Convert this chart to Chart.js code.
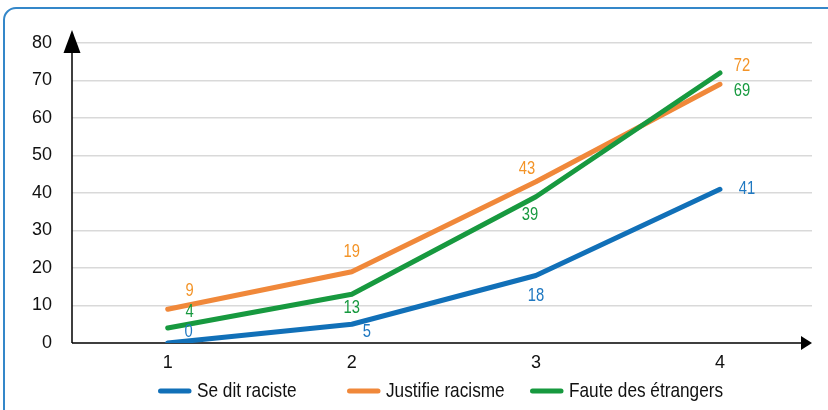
<!DOCTYPE html>
<html>
<head>
<meta charset="utf-8">
<script src="https://cdn.jsdelivr.net/npm/chart.js@4"></script>
<style>
  html, body { margin: 0; padding: 0; background: #fff; overflow: hidden; }
  #wrap { position: relative; width: 828px; height: 410px; }
  #frame {
    position: absolute; left: 3px; top: 7px; width: 850px; height: 430px;
    border: 2px solid #3487c9; border-radius: 13px; box-sizing: border-box;
  }
  canvas { position: absolute; left: 0; top: 0; }
</style>
</head>
<body>
<div id="wrap">
  <div id="frame"></div>
  <canvas id="chart" width="828" height="410"></canvas>
</div>
<script>
const categories = [1, 2, 3, 4];
const yTicks = [0, 10, 20, 30, 40, 50, 60, 70, 80];
const seriesNames = ['Se dit raciste', 'Justifie racisme', 'Faute des étrangers'];

const seDitRaciste = [0, 5, 18, 41];
const justifieRacisme = [9, 19, 43, 69];
const fauteEtrangers = [4, 13, 39, 72];

// value labels as printed on the chart
const seDitLabels = ['0', '5', '18', '41'];
const justifieLabels = ['9', '19', '43', '72'];
const fauteLabels = ['4', '13', '39', '69'];

const BLUE = '#1170b8';
const ORANGE = '#f0883a';
const GREEN = '#17993f';
const REGULAR = '"Liberation Sans", Arial, Helvetica, sans-serif';
const SQUEEZE = 0.82; // no narrow font installed, so squeeze the regular one

const toPoints = vals => categories.map((c, i) => ({ x: c, y: vals[i] }));

const datasets = [
  {
    label: seriesNames[0], data: toPoints(seDitRaciste), borderColor: BLUE,
    order: 2, valueLabels: seDitLabels, labelColor: '#1f78c1',
    labelOffsets: [[21, -11], [15, 8], [0, 21], [27, 0]]
  },
  {
    label: seriesNames[1], data: toPoints(justifieRacisme), borderColor: ORANGE,
    order: 1, valueLabels: justifieLabels, labelColor: '#f39428',
    labelOffsets: [[22, -18], [0, -20], [-9, -13], [22, -18]]
  },
  {
    label: seriesNames[2], data: toPoints(fauteEtrangers), borderColor: GREEN,
    order: 0, valueLabels: fauteLabels, labelColor: '#17993f',
    labelOffsets: [[22, -16], [0, 14], [-6, 18], [22, 18]]
  }
];
datasets.forEach(d => {
  d.borderWidth = 5;
  d.pointRadius = 0;
  d.tension = 0;
  d.borderCapStyle = 'round';
  d.borderJoinStyle = 'round';
  d.fill = false;
});

function narrowText(ctx, text, x, y) {
  ctx.save();
  ctx.translate(x, y);
  ctx.scale(SQUEEZE, 1);
  ctx.fillText(text, 0, 0);
  ctx.restore();
}

// axes with arrow heads
const axesPlugin = {
  id: 'axes',
  beforeDatasetsDraw(chart) {
    const { ctx, chartArea: a } = chart;
    ctx.save();
    ctx.strokeStyle = '#000';
    ctx.fillStyle = '#000';
    ctx.lineWidth = 1.5;
    ctx.beginPath();
    ctx.moveTo(a.left, a.bottom);
    ctx.lineTo(a.left, a.top - 5);
    ctx.moveTo(a.left, a.bottom);
    ctx.lineTo(a.right - 6, a.bottom);
    ctx.stroke();
    // y arrow
    ctx.beginPath();
    ctx.moveTo(a.left, a.top - 13);
    ctx.lineTo(a.left - 8.5, a.top + 10);
    ctx.lineTo(a.left + 8.5, a.top + 10);
    ctx.closePath();
    ctx.fill();
    // x arrow
    ctx.beginPath();
    ctx.moveTo(a.right, a.bottom);
    ctx.lineTo(a.right - 11, a.bottom - 7);
    ctx.lineTo(a.right - 11, a.bottom + 7);
    ctx.closePath();
    ctx.fill();
    ctx.restore();
  }
};

// value labels next to the points
const valueLabelPlugin = {
  id: 'valueLabels',
  afterDatasetsDraw(chart) {
    const ctx = chart.ctx;
    ctx.save();
    ctx.font = '18px ' + REGULAR;
    ctx.textAlign = 'center';
    ctx.textBaseline = 'middle';
    chart.data.datasets.forEach((ds, di) => {
      const meta = chart.getDatasetMeta(di);
      meta.data.forEach((pt, i) => {
        const [dx, dy] = ds.labelOffsets[i];
        ctx.fillStyle = ds.labelColor;
        narrowText(ctx, ds.valueLabels[i], pt.x + dx, pt.y + dy);
      });
    });
    ctx.restore();
  }
};

// legend along the bottom
const legendX = [158, 347, 530];
const legendPlugin = {
  id: 'bottomLegend',
  afterDraw(chart) {
    const ctx = chart.ctx;
    const y = 391;
    ctx.save();
    ctx.font = '21px ' + REGULAR;
    ctx.textBaseline = 'middle';
    ctx.textAlign = 'left';
    chart.data.datasets.forEach((ds, i) => {
      const x = legendX[i];
      ctx.strokeStyle = ds.borderColor;
      ctx.lineWidth = 5;
      ctx.lineCap = 'round';
      ctx.beginPath();
      ctx.moveTo(x + 2.5, y);
      ctx.lineTo(x + 31, y);
      ctx.stroke();
      ctx.fillStyle = '#111';
      narrowText(ctx, ds.label, x + 39, y);
    });
    ctx.restore();
  }
};

new Chart(document.getElementById('chart'), {
  type: 'line',
  data: { datasets },
  options: {
    responsive: false,
    animation: false,
    layout: { padding: { top: 43, right: 16, left: 0, bottom: 0 } },
    plugins: { legend: { display: false }, tooltip: { enabled: false } },
    scales: {
      x: {
        type: 'linear',
        min: 0.48,
        max: 4.5,
        afterBuildTicks: s => { s.ticks = categories.map(v => ({ value: v })); },
        afterFit: s => { s.height = 67; },
        grid: { display: false, drawTicks: false },
        border: { display: false },
        ticks: { color: '#111', font: { family: REGULAR, size: 18 }, padding: 9 }
      },
      y: {
        min: 0,
        max: 80,
        afterBuildTicks: s => { s.ticks = yTicks.map(v => ({ value: v })); },
        afterFit: s => { s.width = 72; },
        grid: {
          color: ctx => ctx.tick.value === 0 ? 'rgba(0,0,0,0)' : '#d9d9d9',
          lineWidth: 1.5,
          drawTicks: false
        },
        border: { display: false },
        ticks: { color: '#111', font: { family: REGULAR, size: 18 }, padding: 20 }
      }
    }
  },
  plugins: [axesPlugin, valueLabelPlugin, legendPlugin]
});
</script>
</body>
</html>
